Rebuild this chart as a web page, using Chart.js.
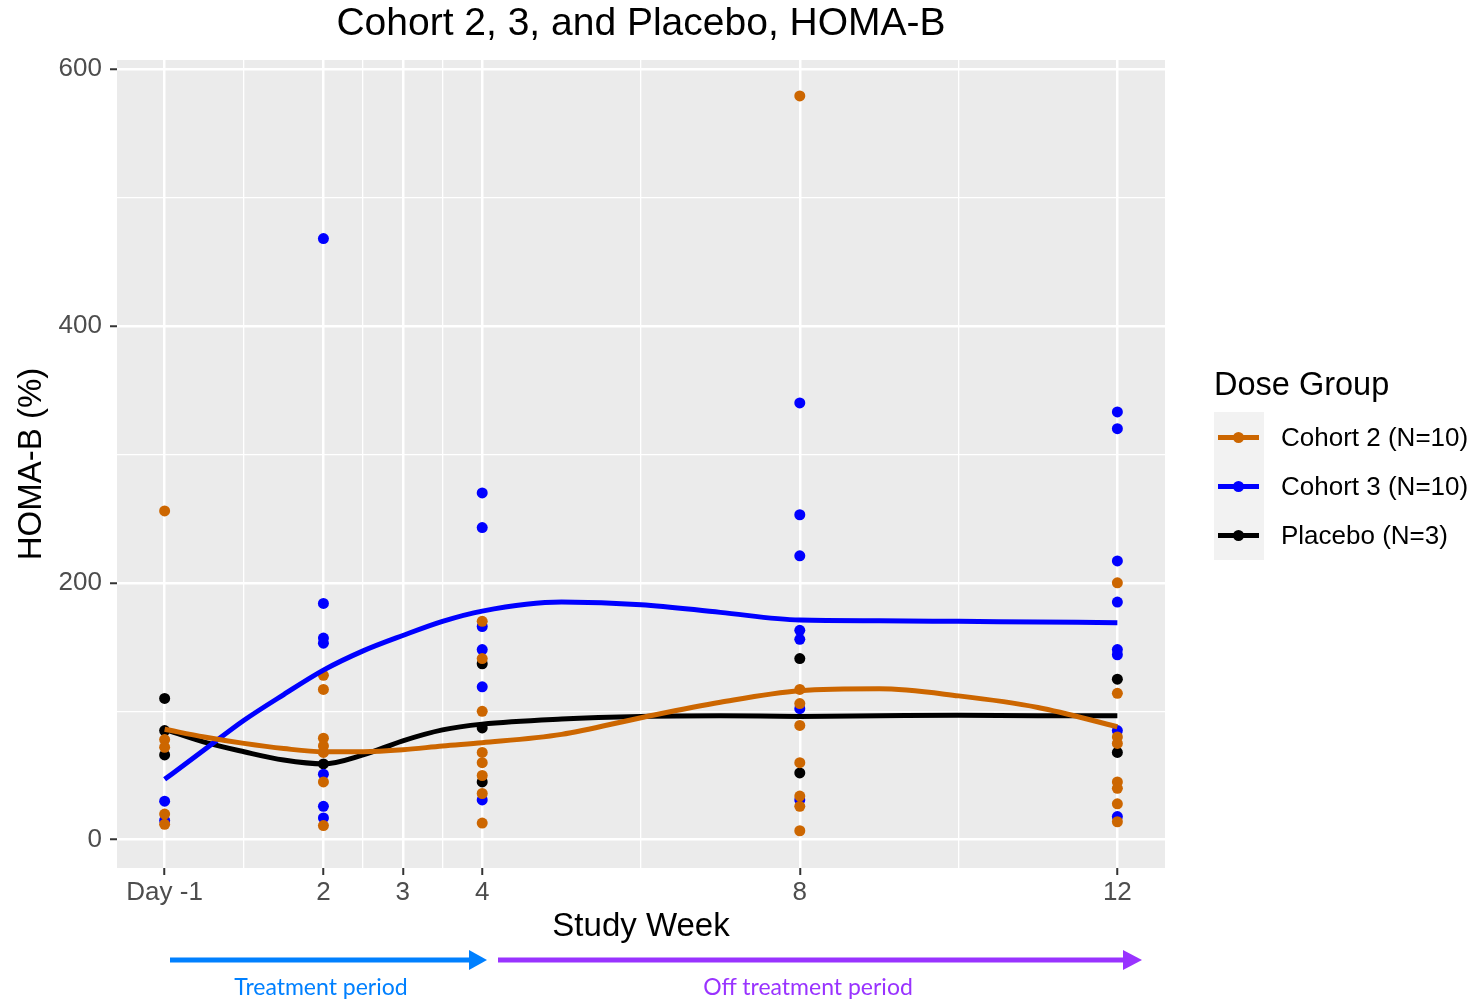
<!DOCTYPE html>
<html>
<head>
<meta charset="utf-8">
<title>HOMA-B by dose group</title>
<script src="https://cdn.jsdelivr.net/npm/chart.js@4.4.1/dist/chart.umd.min.js"></script>
<style>
    body { margin: 0; background: #ffffff; font-family: "Liberation Sans", Arial, sans-serif; }
    #wrap { position: relative; width: 1476px; height: 1000px; overflow: hidden; }
    #chart { position: absolute; left: 0; top: 0; }
    .plot-title { position: absolute; left: 117px; width: 1048px; top: 0; line-height: 44px; font-size: 39px; text-align: center; color: #000; }
    .legend-title { position: absolute; left: 1214px; top: 366px; line-height: 36px; font-size: 32.5px; color: #000; }
    .legend-keys { position: absolute; left: 1214px; top: 412px; width: 50px; height: 148px; background: #f2f2f2; }
    .legend-row { position: absolute; left: 1214px; height: 30px; width: 262px; }
    .legend-row .bar { position: absolute; left: 4px; top: 12.5px; width: 41px; height: 5px; }
    .legend-row .dot { position: absolute; left: 19px; top: 9.5px; width: 11px; height: 11px; border-radius: 50%; }
    .legend-row .label { position: absolute; left: 67px; top: 0; line-height: 30px; font-size: 26px; color: #000; white-space: nowrap; }
    .period { position: absolute; top: 971px; line-height: 30px; font-size: 23px; font-family: Lato, "Open Sans", sans-serif; text-align: center; }
</style>
</head>
<body>
<div id="wrap">
    <canvas id="chart" width="1476" height="1000"></canvas>
    <div class="plot-title">Cohort 2, 3, and Placebo, HOMA-B</div>
    <div class="legend-title">Dose Group</div>
    <div class="legend-keys"></div>
    <div id="legend-rows"></div>
    <svg width="1476" height="1000" style="position:absolute;left:0;top:0;pointer-events:none">
        <line x1="170" y1="960" x2="472" y2="960" stroke="#0080ff" stroke-width="5"/>
        <polygon points="469,950 487,960 469,970" fill="#0080ff"/>
        <line x1="498" y1="960" x2="1126" y2="960" stroke="#9933ff" stroke-width="5"/>
        <polygon points="1123,950 1142,960 1123,970" fill="#9933ff"/>
    </svg>
    <div class="period" style="left:171px;width:300px;color:#0080ff">Treatment period</div>
    <div class="period" style="left:608px;width:400px;color:#9933ff">Off treatment period</div>
</div>
<script>
// Study visits (week 0 is Day -1)
const weeks = [0, 2, 4, 8, 12];
const weekLabels = { 0: 'Day -1', 2: '2', 3: '3', 4: '4', 8: '8', 12: '12' };

// HOMA-B (%) per subject, one inner array per visit
const cohort2Values = [
    [256, 78, 72, 20, 12],
    [128, 117, 79, 73, 68, 45, 11],
    [170, 141, 100, 68, 60, 50, 36, 13],
    [579, 117, 106, 89, 60, 34, 26, 7],
    [200, 114, 80, 75, 45, 40, 28, 14]
];
const cohort3Values = [
    [30, 15],
    [468, 184, 157, 153, 51, 26, 17],
    [270, 243, 166, 148, 119, 31],
    [340, 253, 221, 163, 156, 102, 31],
    [333, 320, 217, 185, 148, 144, 85, 18]
];
const placeboValues = [
    [110, 85, 66],
    [59],
    [137, 87, 45],
    [141, 52],
    [125, 68]
];

// Smoothed trend for each group
const curveWeeks = [0, 0.5, 1, 1.5, 2, 2.5, 3, 3.5, 4, 5, 6, 7, 8, 9, 10, 11, 12];
const cohort2Curve = [86, 80, 75, 71, 68.5, 68.5, 70, 73, 75.5, 82, 95, 107, 116, 117.5, 112, 103, 88];
const cohort3Curve = [47, 70, 93, 113, 132, 147, 159, 170, 178, 185, 183, 177, 171, 170.5, 170, 169.5, 169];
const placeboCurve = [86, 76, 68.5, 62, 59, 66, 77, 85.5, 90, 94, 96, 96.5, 96, 96.5, 97, 96.5, 96.5];

// Axis breaks (major labelled, minor only gridlines)
const xGrid = [0, 1, 2, 2.5, 3, 3.5, 4, 6, 8, 10, 12];
const xMajor = [0, 2, 3, 4, 8, 12];
const yGrid = [0, 100, 200, 300, 400, 500, 600];
const yMajor = [0, 200, 400, 600];

const groups = [
    { name: 'Cohort 2 (N=10)', color: '#cc6600', values: cohort2Values, curve: cohort2Curve },
    { name: 'Cohort 3 (N=10)', color: '#0000ff', values: cohort3Values, curve: cohort3Curve },
    { name: 'Placebo (N=3)', color: '#000000', values: placeboValues, curve: placeboCurve }
];

function toPoints(byWeek) {
    return byWeek.flatMap((vals, i) => vals.map(v => ({ x: weeks[i], y: v })));
}

const datasets = [];
groups.forEach(g => {
    datasets.push({
        label: g.name + ' trend',
        data: curveWeeks.map((w, i) => ({ x: w, y: g.curve[i] })),
        showLine: true,
        borderColor: g.color,
        borderWidth: 5,
        pointRadius: 0,
        tension: 0.4,
        cubicInterpolationMode: 'monotone',
        order: 0
    });
});
groups.forEach(g => {
    datasets.push({
        label: g.name,
        data: toPoints(g.values),
        backgroundColor: g.color,
        borderWidth: 0,
        pointRadius: 5.5,
        order: 1
    });
});

// Grey panel behind the grid
const panelBackground = {
    id: 'panelBackground',
    beforeDraw(chart) {
        const { ctx, chartArea } = chart;
        ctx.save();
        ctx.fillStyle = '#ebebeb';
        ctx.fillRect(chartArea.left, chartArea.top, chartArea.right - chartArea.left, chartArea.bottom - chartArea.top);
        ctx.restore();
    }
};

const tickFont = { family: '"Liberation Sans", Arial, sans-serif', size: 26 };
const titleFont = { family: '"Liberation Sans", Arial, sans-serif', size: 33, lineHeight: 1.1 };

new Chart(document.getElementById('chart').getContext('2d'), {
    type: 'scatter',
    data: { datasets: datasets },
    options: {
        responsive: false,
        animation: false,
        layout: { padding: { top: 60, right: 311, bottom: 55, left: 0 } },
        plugins: {
            legend: { display: false },
            title: { display: false },
            tooltip: { enabled: false }
        },
        scales: {
            x: {
                type: 'linear',
                min: -0.6,
                max: 12.6,
                afterBuildTicks: scale => { scale.ticks = xGrid.map(v => ({ value: v })); },
                afterFit: scale => { scale.height = 77; },
                border: { display: false },
                grid: {
                    color: '#ffffff',
                    lineWidth: c => xMajor.includes(c.tick.value) ? 2.5 : 1.3,
                    tickColor: c => xMajor.includes(c.tick.value) ? '#333333' : 'rgba(0,0,0,0)',
                    tickWidth: 2,
                    tickLength: 7
                },
                ticks: {
                    autoSkip: false,
                    maxRotation: 0,
                    padding: 2,
                    color: '#4d4d4d',
                    font: tickFont,
                    callback: v => weekLabels[v] !== undefined ? weekLabels[v] : ''
                },
                title: {
                    display: true,
                    text: 'Study Week',
                    color: '#000000',
                    font: titleFont,
                    padding: { top: 0, bottom: 0 }
                }
            },
            y: {
                min: -22,
                max: 607,
                afterBuildTicks: scale => { scale.ticks = yGrid.map(v => ({ value: v })); },
                afterFit: scale => { scale.width = 117; },
                border: { display: false },
                grid: {
                    color: '#ffffff',
                    lineWidth: c => yMajor.includes(c.tick.value) ? 2.5 : 1.3,
                    tickColor: c => yMajor.includes(c.tick.value) ? '#333333' : 'rgba(0,0,0,0)',
                    tickWidth: 2,
                    tickLength: 7
                },
                ticks: {
                    autoSkip: false,
                    padding: 8,
                    color: '#4d4d4d',
                    font: tickFont,
                    callback: v => yMajor.includes(v) ? String(v) : ''
                },
                title: {
                    display: true,
                    text: 'HOMA-B (%)',
                    color: '#000000',
                    font: titleFont,
                    padding: { top: 14, bottom: 0 }
                }
            }
        }
    },
    plugins: [panelBackground]
});

// Legend rows
const rowCenters = [437, 486, 535];
const legendRows = document.getElementById('legend-rows');
groups.forEach((g, i) => {
    const row = document.createElement('div');
    row.className = 'legend-row';
    row.style.top = (rowCenters[i] - 15) + 'px';
    row.innerHTML = `<div class="bar" style="background:${g.color}"></div>` +
        `<div class="dot" style="background:${g.color}"></div>` +
        `<div class="label">${g.name}</div>`;
    legendRows.appendChild(row);
});
</script>
</body>
</html>
